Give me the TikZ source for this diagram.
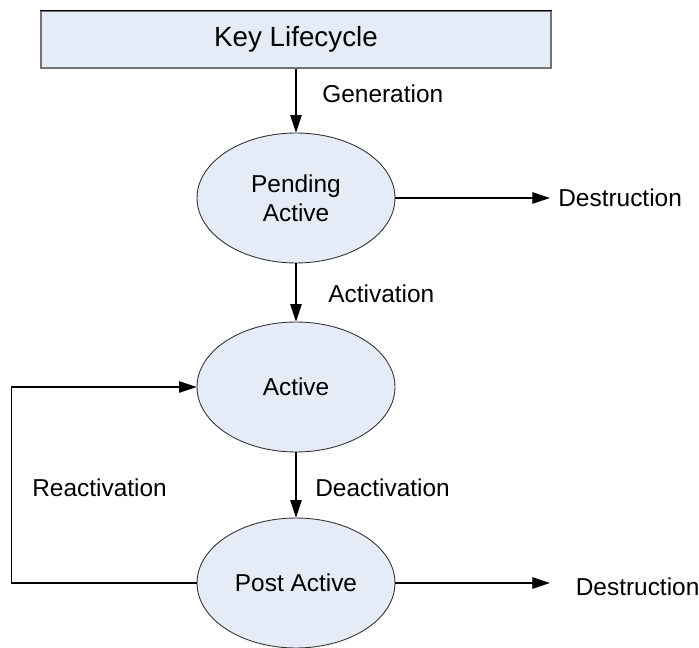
\documentclass[tikz,border=0pt]{standalone}
\usepackage{fontspec}
\setmainfont{Liberation Sans}
\usetikzlibrary{shapes.geometric,arrows.meta}

\definecolor{statefill}{RGB}{230,236,247}
\tikzset{
  state/.style={ellipse, draw=black!80, line width=0.5pt, fill=statefill,
    minimum width=3.96cm, minimum height=2.6cm, inner sep=0pt, align=center,
    font=\fontsize{13.9}{16.5}\selectfont},
  lbl/.style={inner sep=0pt, font=\fontsize{13.9}{16.5}\selectfont},
  flow/.style={-{Triangle[length=10pt,width=6.5pt]}, line width=0.6pt},
}

\begin{document}
\begin{tikzpicture}[x=0.02cm, y=-0.02cm]
  \useasboundingbox (0,0) rectangle (699,648);
  % title bar
  \node[draw=black!55, line width=0.8pt, fill=statefill, minimum width=10.2cm,
    minimum height=1.14cm, inner sep=0pt, font=\fontsize{15.8}{19}\selectfont]
    (title) at (296,39.5) {Key Lifecycle};
  \draw[line width=0.8pt] (title.north west) -- (title.north east);
  % states
  \node[state] (pend) at (296,198) {Pending\\Active};
  \node[state] (act)  at (296,387) {Active};
  \node[state] (post) at (296,583) {Post Active};
  % free ends
  \coordinate (end1) at (550,198);
  \coordinate (end2) at (550,583);
  % transitions
  \draw[flow] (title.south) -- (pend.north);
  \draw[flow] (pend.south) -- (act.north);
  \draw[flow] (act.south) -- (post.north);
  \draw[flow] (pend.east) -- (end1);
  \draw[flow] (post.east) -- (end2);
  \draw[flow] (post.west) -- ++(-185,0) |- (act.west);
  % labels
  \node[lbl, anchor=base west] (gen)   at (322,103)   {Generation};
  \node[lbl, anchor=base west] (actv)  at (328,302)   {Activation};
  \node[lbl, anchor=base west] (deact) at (315,496.5) {Deactivation};
  \node[lbl, anchor=base west] (react) at (32,496.5)  {Reactivation};
  \node[lbl, anchor=base west] (des1)  at (558,207)   {Destruction};
  \node[lbl, anchor=base west] (des2)  at (575.5,595) {Destruction};
\end{tikzpicture}
\end{document}
